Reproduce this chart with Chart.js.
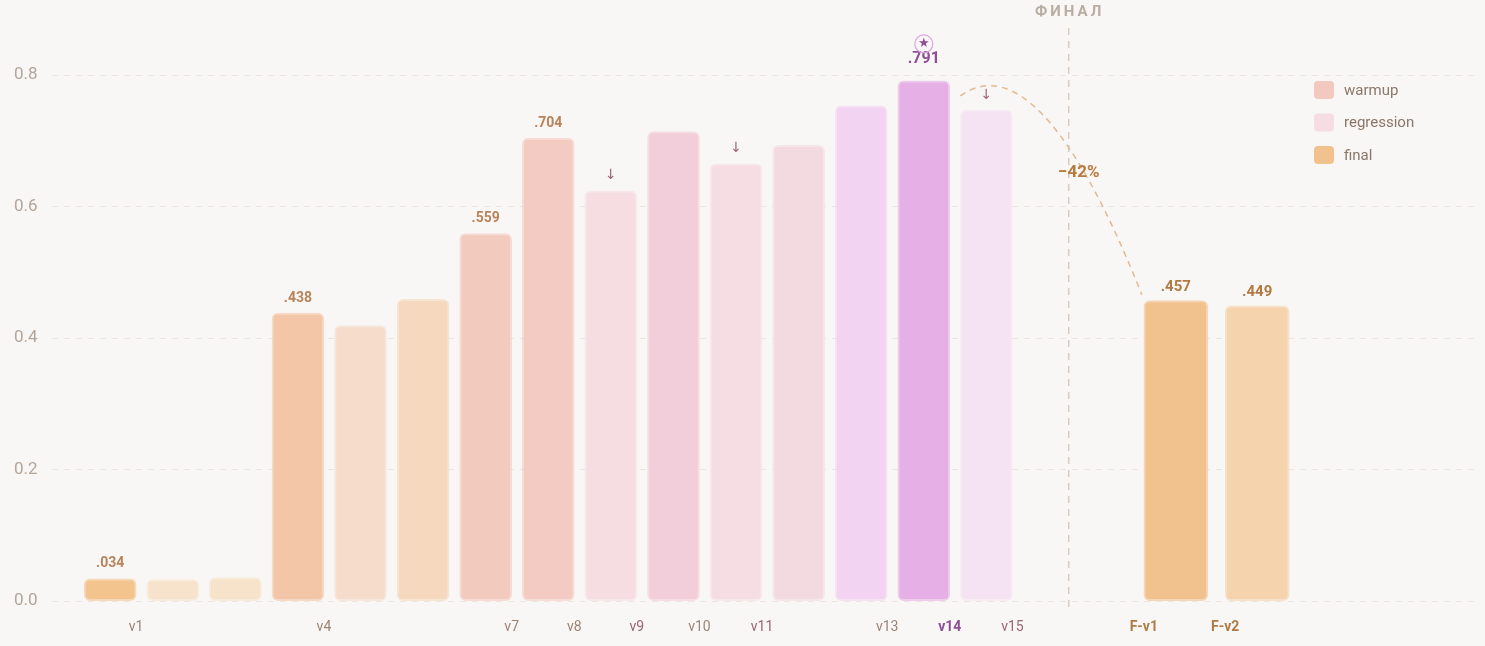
<!DOCTYPE html>
<html>
<head>
<meta charset="utf-8">
<script src="https://cdn.jsdelivr.net/npm/chart.js@4.4.1/dist/chart.umd.min.js"></script>
<style>
  html, body { margin: 0; padding: 0; background: #F9F7F5; }
  #wrap { width: 1485px; height: 646px; }
</style>
</head>
<body>
<div id="wrap"><canvas id="runsChart"></canvas></div>
<script>
// run versions and scores
const runLabels = ['v1','v2','v3','v4','v5','v6','v7','v8','v9','v10','v11','v12','v13','v14','v15'];
const runScores = [0.034, 0.033, 0.036, 0.438, 0.419, 0.459, 0.559, 0.704, 0.624, 0.714, 0.665, 0.693, 0.753, 0.791, 0.747];
const runColors = ['#F4C48F','#F7E3CC','#F7E2CA','#F3C6A8','#F6DCCB','#F5D8BE','#F3CABE','#F3CBC2','#F5DDE2','#F2CEDA','#F5DDE3','#F3DAE0','#F2D3F2','#E6B0E6','#F5E2F3'];
const shownRunTicks = ['v1','v4','v7','v8','v9','v10','v11','v13','v14','v15'];
const labelledRuns = ['v1','v4','v7','v8','v14'];
const droppedRuns = ['v9','v11','v15'];

const finalLabels = ['F-v1','F-v2'];
const finalScores = [0.457, 0.449];
const finalColors = ['#F2C28E','#F4D3AD'];
const finalSlots = [17.1, 18.4];   // axis position after the divider
const dividerSlot = 15.9;

const yTicks = [0, 0.2, 0.4, 0.6, 0.8];

const legendItems = [
  { text: 'warmup', color: '#F3C8BE' },
  { text: 'regression', color: '#F5DDE3' },
  { text: 'final', color: '#F2C28E' }
];

const FONT = 'Roboto, "Noto Sans", sans-serif';

const tickPositions = runLabels.map((_, i) => i + 1).concat(finalSlots);
const tickNames = runLabels.concat(finalLabels);

function tickText(v) {
  if (v === undefined || v === null) return '';
  const i = tickPositions.findIndex(p => Math.abs(p - v) < 1e-6);
  if (i < 0) return '';
  const n = tickNames[i];
  return (shownRunTicks.includes(n) || finalLabels.includes(n)) ? n : '';
}

function ctxTick(c) {
  return c && c.tick ? tickText(c.tick.value) : '';
}

const overlay = {
  id: 'overlay',
  afterDatasetsDraw(chart) {
    const { ctx, scales: { x, y }, chartArea } = chart;
    ctx.save();

    // divider and title
    const dx = x.getPixelForValue(dividerSlot);
    ctx.strokeStyle = '#D9CBBE';
    ctx.lineWidth = 1.5;
    ctx.setLineDash([7, 6]);
    ctx.beginPath();
    ctx.moveTo(dx, 28);
    ctx.lineTo(dx, chartArea.bottom + 12);
    ctx.stroke();
    ctx.setLineDash([]);
    ctx.fillStyle = '#B9ADA2';
    ctx.font = 'bold 15px ' + FONT;
    ctx.textAlign = 'center';
    ctx.textBaseline = 'middle';
    ctx.letterSpacing = '3px';
    ctx.fillText('ФИНАЛ', dx + 1, 12);
    ctx.letterSpacing = '0px';

    // value labels on run bars
    const meta0 = chart.getDatasetMeta(0);
    ctx.textBaseline = 'bottom';
    runLabels.forEach((n, i) => {
      const bar = meta0.data[i];
      if (labelledRuns.includes(n)) {
        const top = n === 'v14';
        ctx.fillStyle = top ? '#8E4E96' : '#B8835A';
        ctx.font = (top ? 'bold 16px ' : 'bold 14px ') + FONT;
        ctx.fillText(runScores[i].toFixed(3).replace(/^0/, ''), bar.x, bar.y - (top ? 14 : 8));
        if (top) {
          ctx.strokeStyle = '#D9A3DF';
          ctx.lineWidth = 1.2;
          ctx.beginPath();
          ctx.arc(bar.x, bar.y - 37, 9, 0, Math.PI * 2);
          ctx.stroke();
          ctx.fillStyle = '#8E4E96';
          ctx.font = '13px "DejaVu Sans"';
          ctx.textBaseline = 'middle';
          ctx.fillText('★', bar.x, bar.y - 37);
          ctx.textBaseline = 'bottom';
        }
      }
      if (droppedRuns.includes(n)) {
        ctx.fillStyle = '#9A6478';
        ctx.font = '14px "DejaVu Sans"';
        ctx.fillText('↓', bar.x, bar.y - 8);
      }
    });

    // value labels on final bars
    const meta1 = chart.getDatasetMeta(1);
    ctx.fillStyle = '#B07A45';
    ctx.font = 'bold 15px ' + FONT;
    finalLabels.forEach((n, i) => {
      const bar = meta1.data[i];
      ctx.fillText(finalScores[i].toFixed(3).replace(/^0/, ''), bar.x, bar.y - 6);
    });

    // drop curve from last run to first final
    const last = meta0.data[runLabels.length - 1];
    const fin = meta1.data[0];
    ctx.strokeStyle = '#E2B98F';
    ctx.lineWidth = 1.5;
    ctx.setLineDash([6, 5]);
    ctx.beginPath();
    ctx.moveTo(last.x - 26, last.y - 14);
    ctx.bezierCurveTo(last.x + 10, last.y - 40, last.x + 70, last.y - 30, fin.x - 34, fin.y - 6);
    ctx.stroke();
    ctx.setLineDash([]);
    ctx.fillStyle = '#B87A3E';
    ctx.font = 'bold 17px ' + FONT;
    ctx.textBaseline = 'middle';
    ctx.fillText('\u221242%', dx + 10, y.getPixelForValue(0.651));

    // legend
    ctx.textAlign = 'left';
    ctx.font = '15px ' + FONT;
    legendItems.forEach((it, i) => {
      const ly = 90 + i * 32.5;
      ctx.fillStyle = it.color;
      ctx.beginPath();
      ctx.roundRect(1314, ly - 9, 20, 18, 4);
      ctx.fill();
      ctx.fillStyle = '#8C7668';
      ctx.fillText(it.text, 1344, ly + 1);
    });
    ctx.restore();
  }
};

new Chart(document.getElementById('runsChart'), {
  type: 'bar',
  data: {
    datasets: [
      {
        label: 'runs',
        data: runScores.map((v, i) => ({ x: i + 1, y: v })),
        backgroundColor: runColors,
        borderColor: runColors.map(c => c + '99'),
        borderWidth: 2,
        borderRadius: 6,
        borderSkipped: false,
        barThickness: 52
      },
      {
        label: 'final',
        data: finalScores.map((v, i) => ({ x: finalSlots[i], y: v })),
        backgroundColor: finalColors,
        borderColor: finalColors.map(c => c + '99'),
        borderWidth: 2,
        borderRadius: 6,
        borderSkipped: false,
        barThickness: 64
      }
    ]
  },
  options: {
    responsive: true,
    maintainAspectRatio: false,
    animation: false,
    layout: { padding: { top: 75, right: 5, left: 0, bottom: 0 } },
    plugins: { legend: { display: false }, tooltip: { enabled: false } },
    scales: {
      x: {
        type: 'linear',
        min: 0.32,
        max: 21.8,
        grid: { display: false },
        border: { display: false },
        afterBuildTicks: axis => { axis.ticks = tickPositions.map(v => ({ value: v })); },
        ticks: {
          autoSkip: false,
          maxRotation: 0,
          padding: 10,
          callback: v => tickText(v),
          color: c => {
            const n = ctxTick(c);
            if (n === 'v14') return '#8E4E96';
            if (finalLabels.includes(n)) return '#B07A45';
            if (droppedRuns.includes(n)) return '#9A6478';
            return '#9C8475';
          },
          font: c => {
            const n = ctxTick(c);
            const bold = n === 'v14' || finalLabels.includes(n);
            return { family: FONT, size: 14, weight: bold ? 'bold' : 'normal' };
          }
        }
      },
      y: {
        min: 0,
        max: 0.8,
        afterBuildTicks: axis => { axis.ticks = yTicks.map(v => ({ value: v })); },
        border: { display: false, dash: [6, 6] },
        grid: { color: '#ECE6E0', lineWidth: 1, drawTicks: false },
        ticks: {
          padding: 14,
          color: '#B3A59A',
          font: { family: FONT, size: 17 },
          callback: v => v.toFixed(1)
        }
      }
    }
  },
  plugins: [overlay]
});
</script>
</body>
</html>
